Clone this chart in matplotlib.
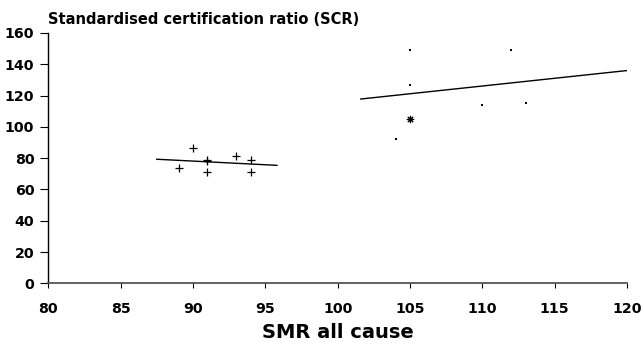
import matplotlib
matplotlib.use("Agg")
import matplotlib.pyplot as plt

# Low SMR group (plus markers)
low_x = [89, 90, 91, 91, 91, 93, 94, 94]
low_y = [74, 86.5, 78, 71, 79, 81.5, 79, 71]
low_fit_x = [87.5, 95.8]
low_fit_y = [79.3, 75.4]

# High SMR group (dots)
high_x = [104, 105, 105, 110, 112, 113]
high_y = [92, 149, 127, 114, 149, 115]
star_x = [105]
star_y = [105]
high_fit_x = [101.6, 120]
high_fit_y = [117.8, 136]

xticks = [80, 85, 90, 95, 100, 105, 110, 115, 120]
yticks = [0, 20, 40, 60, 80, 100, 120, 140, 160]

plt.rcParams['font.family'] = ['DejaVu Sans']

W, H = 642, 345
fig = plt.figure(figsize=(6.42, 3.45), dpi=100)
left, right, top, bottom = 48.3, 627.0, 33.0, 283.3
ax = fig.add_axes([left / W, 1 - bottom / H, (right - left) / W, (bottom - top) / H])

ax.plot(low_fit_x, low_fit_y, color='black', lw=1.0)
ax.plot(high_fit_x, high_fit_y, color='black', lw=1.0)
ax.scatter(low_x, low_y, marker='+', s=26, color='black', linewidths=0.9)
ax.scatter(high_x, high_y, marker='s', s=3, color='black', linewidths=0)
ax.scatter(star_x, star_y, marker=(8, 2, 0), s=22, color='black', linewidths=0.8)

ax.set_xlim(80, 120)
ax.set_ylim(0, 160)
ax.set_xticks(xticks)
ax.set_yticks(yticks)
for s in ['top', 'right']:
    ax.spines[s].set_visible(False)
ax.spines['left'].set_linewidth(1.0)
ax.spines['bottom'].set_linewidth(1.3)
ax.spines['bottom'].set_color('#555555')
ax.tick_params(axis='x', direction='out', length=3.6, width=0.8, labelsize=10.2, pad=10)
ax.tick_params(axis='y', direction='out', length=5.8, width=0.8, labelsize=10.2, pad=4.3)
for lab in ax.get_xticklabels() + ax.get_yticklabels():
    lab.set_fontweight('bold')

ax.set_xlabel('SMR all cause', fontsize=14, fontweight='bold')
ax.xaxis.label.set_va('baseline')
ax.xaxis.set_label_coords(0.5, -(338 - bottom) / (bottom - top))

fig.text(48 / W, 1 - 24 / H, 'Standardised certification ratio (SCR)', fontsize=10.5,
         fontweight='bold', va='baseline', ha='left')

fig.savefig('out.png', dpi=100)
